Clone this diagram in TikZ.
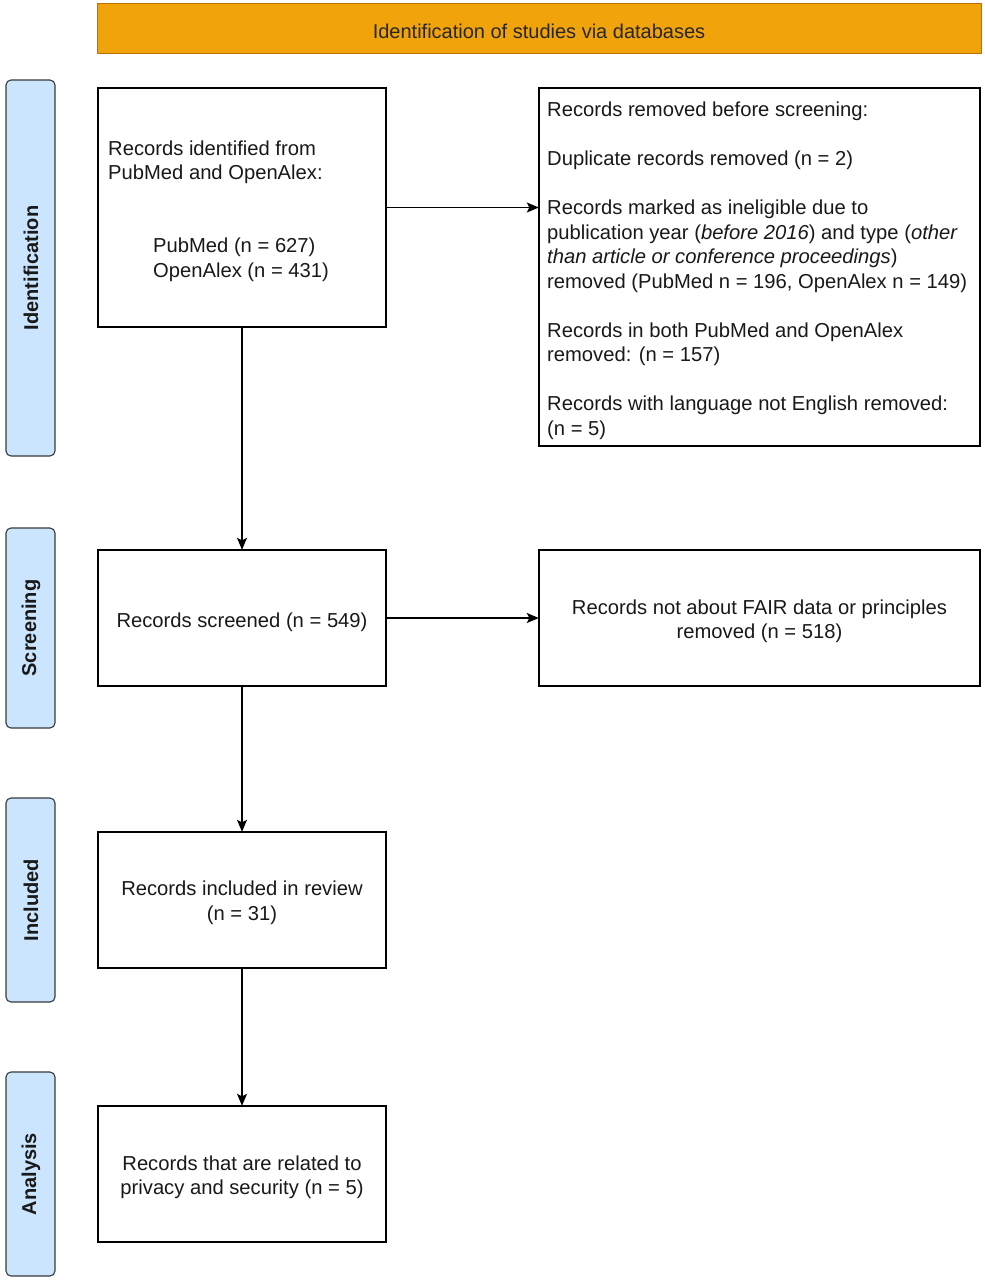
\documentclass[tikz,border=0pt]{standalone}
\usepackage{fontspec}
\setmainfont{Liberation Sans}
\usetikzlibrary{arrows.meta}
\definecolor{hdrfill}{HTML}{F0A30A}
\definecolor{hdrdraw}{HTML}{BD7000}
\definecolor{sidefill}{HTML}{CCE5FF}
\definecolor{sidedraw}{HTML}{36393D}
\tikzset{
  box/.style={draw=black, line width=1.3pt, fill=white},
  side/.style={draw=sidedraw, fill=sidefill, line width=1.1pt, rounded corners=5pt},
  sidetext/.style={rotate=90, font=\fontsize{20}{24}\selectfont\bfseries, text=black!90},
  bodytext/.style={font=\fontsize{20.2}{24.5}\selectfont, text=black!90, inner sep=0pt},
  conn/.style={line width=1.3pt, -{Stealth[length=12pt,width=10pt,inset=2.5pt]}},
}
\begin{document}
\begin{tikzpicture}[x=1pt,y=-1pt]
\useasboundingbox (0,0) rectangle (985,1280);
% header
\draw[fill=hdrfill, draw=hdrdraw, line width=1pt] (97,3) rectangle (981,53);
\node[font=\fontsize{20}{24}\selectfont, text=black!85] (hdr) at (539,31) {Identification of studies via databases};
% side bars
\draw[side] (6,80) rectangle (55,456);
\node[sidetext] (sid) at (31,268) {Identification};
\draw[side] (6,528) rectangle (55,728);
\node[sidetext] (sscr) at (31,628) {Screening};
\draw[side] (6,798) rectangle (55,1002);
\node[sidetext] (sinc) at (31,900) {Included};
\draw[side] (6,1072) rectangle (55,1276);
\node[sidetext] (sana) at (31,1174) {Analysis};
% boxes
\draw[box] (98,88) rectangle (386,327);
\draw[box] (539,88) rectangle (980,446);
\draw[box] (98,550) rectangle (386,686);
\draw[box] (539,550) rectangle (980,686);
\draw[box] (98,832) rectangle (386,968);
\draw[box] (98,1106) rectangle (386,1242);
% named anchors
\node[inner sep=0pt, minimum width=288pt, minimum height=239pt] (ident) at (242,207.5) {};
\node[inner sep=0pt, minimum width=441pt, minimum height=358pt] (removed) at (759.5,267) {};
\node[inner sep=0pt, minimum width=288pt, minimum height=136pt] (screen) at (242,618) {};
\node[inner sep=0pt, minimum width=441pt, minimum height=136pt] (fair) at (759.5,618) {};
\node[inner sep=0pt, minimum width=288pt, minimum height=136pt] (incl) at (242,900) {};
\node[inner sep=0pt, minimum width=288pt, minimum height=136pt] (anal) at (242,1174) {};
% texts
\node[bodytext, anchor=west, align=left] (t1) at (108,162.5) {Records identified from\\PubMed and OpenAlex:};
\node[bodytext, anchor=west, align=left] (t2) at (153,260) {PubMed (n = 627)\\OpenAlex (n = 431)};
\node[bodytext, anchor=west, align=left] (t3) at (547,271) {Records removed before screening:\\[24.5pt]
Duplicate records removed (n = 2)\\[24.5pt]
Records marked as ineligible due to\\
publication year (\textit{before 2016}) and type (\textit{other}\\
\textit{than article or conference proceedings})\\
removed (PubMed n = 196, OpenAlex n = 149)\\[24.5pt]
Records in both PubMed and OpenAlex\\
removed: (n = 157)\\[24.5pt]
Records with language not English removed:\\
(n = 5)};
\node[bodytext] (t4) at (242,622) {Records screened (n = 549)};
\node[bodytext, align=center] (t5) at (759.5,621.5) {Records not about FAIR data or principles\\removed (n = 518)};
\node[bodytext, align=center] (t6) at (242,903) {Records included in review\\(n = 31)};
\node[bodytext, align=center] (t7) at (242,1177.5) {Records that are related to\\privacy and security (n = 5)};
% connectors
\draw[conn] (ident.east) -- (removed.west |- ident.east);
\draw[conn] (ident.south) -- (screen.north);
\draw[conn] (screen.east) -- (fair.west);
\draw[conn] (screen.south) -- (incl.north);
\draw[conn] (incl.south) -- (anal.north);
\end{tikzpicture}
\end{document}
